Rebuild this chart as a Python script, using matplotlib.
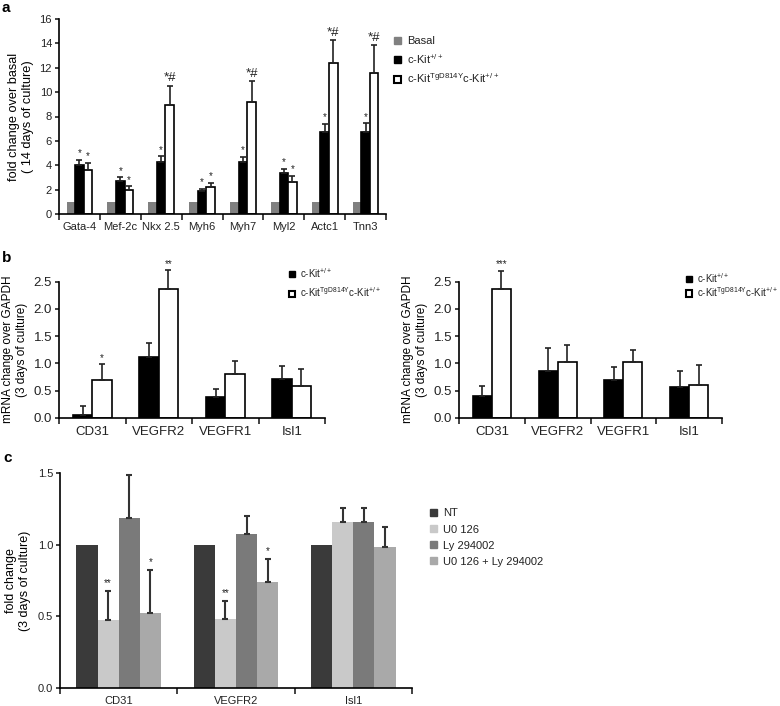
import numpy as np
import matplotlib
matplotlib.use('Agg')
import matplotlib.pyplot as plt
from matplotlib.patches import Patch

plt.rcParams['font.family'] = ['Liberation Sans', 'DejaVu Sans']
plt.rcParams['mathtext.fontset'] = 'custom'
plt.rcParams['mathtext.rm'] = 'Liberation Sans'
plt.rcParams['font.size'] = 8
plt.rcParams['text.color'] = '#222222'
plt.rcParams['xtick.color'] = '#222222'
plt.rcParams['ytick.color'] = '#222222'

# ---- panel a: cardiac genes, 14 days ----
genes_a = ['Gata-4', 'Mef-2c', 'Nkx 2.5', 'Myh6', 'Myh7', 'Myl2', 'Actc1', 'Tnn3']
basal_a = [1, 1, 1, 1, 1, 1, 1, 1]
wt_a = [4.05, 2.7, 4.3, 1.9, 4.25, 3.35, 6.7, 6.75]
wt_a_err = [0.42, 0.3, 0.45, 0.18, 0.45, 0.38, 0.7, 0.7]
tg_a = [3.62, 1.93, 8.92, 2.18, 9.23, 2.65, 12.35, 11.6]
tg_a_err = [0.6, 0.33, 1.6, 0.4, 1.67, 0.48, 1.93, 2.25]
wt_a_sig = ['*', '*', '*', '*', '*', '*', '*', '*']
tg_a_sig = ['*', '*', '*#', '*', '*#', '*', '*#', '*#']

# ---- panel b: endothelial genes, 3 days (two experiments) ----
genes_b = ['CD31', 'VEGFR2', 'VEGFR1', 'Isl1']
wt_b1 = [0.05, 1.12, 0.38, 0.72]
wt_b1_err = [0.17, 0.26, 0.14, 0.23]
tg_b1 = [0.70, 2.37, 0.81, 0.59]
tg_b1_err = [0.28, 0.34, 0.24, 0.30]
tg_b1_sig = ['*', '**', '', '']
wt_b2 = [0.39, 0.85, 0.69, 0.57]
wt_b2_err = [0.20, 0.44, 0.25, 0.29]
tg_b2 = [2.37, 1.03, 1.03, 0.60]
tg_b2_err = [0.33, 0.31, 0.21, 0.36]
tg_b2_sig = ['***', '', '', '']

# ---- panel c: inhibitors ----
genes_c = ['CD31', 'VEGFR2', 'Isl1']
treat_c = ['NT', 'U0 126', 'Ly 294002', 'U0 126 + Ly 294002']
vals_c = [[1.0, 1.0, 1.0],
          [0.477, 0.484, 1.158],
          [1.184, 1.074, 1.158],
          [0.523, 0.74, 0.984]]
err_c = [[0, 0, 0],
         [0.20, 0.125, 0.095],
         [0.30, 0.125, 0.095],
         [0.30, 0.16, 0.14]]
sig_c = [['', '', ''], ['**', '**', ''], ['', '', ''], ['*', '*', '']]
colors_c = ['#3a3a3a', '#c9c9c9', '#7a7a7a', '#a9a9a9']

W, H = 780, 706
fig = plt.figure(figsize=(W / 100, H / 100), dpi=100)


def px_axes(x0, y0, x1, y1):
    return fig.add_axes([x0 / W, 1 - y1 / H, (x1 - x0) / W, (y1 - y0) / H])


def style(ax, n, ymax, step, fs):
    ax.spines['top'].set_visible(False)
    ax.spines['right'].set_visible(False)
    ax.spines['left'].set_linewidth(1.2)
    ax.spines['bottom'].set_linewidth(1.2)
    ax.set_xlim(-0.5, n - 0.5)
    ax.set_ylim(0, ymax)
    ax.set_yticks(np.arange(0, ymax + step / 2, step))
    ax.set_xticks(np.arange(n))
    ax.set_xticks(np.arange(n + 1) - 0.5, minor=True)
    ax.tick_params(axis='x', which='major', length=0, pad=6, labelsize=fs)
    ax.tick_params(axis='x', which='minor', length=4, width=1.2, direction='out')
    ax.tick_params(axis='y', length=3, width=1.2, direction='out', pad=2, labelsize=fs)


def bars(ax, x, vals, errs, color, edge, sig=None):
    ax.bar(x, vals, width=bw, color=color, edgecolor=edge, linewidth=1.2 if edge != 'none' else 0,
           zorder=2)
    if errs is not None:
        ax.errorbar(x, vals, yerr=[np.zeros(len(vals)), errs], fmt='none', ecolor='#222222',
                    elinewidth=1.2, capsize=2.5, capthick=1.2, zorder=3, clip_on=False)
    if sig is not None:
        tops = np.array(vals) + np.array(errs)
        for xi, t, s in zip(x, tops, sig):
            if s:
                ax.annotate(s, (xi, t), xytext=(0, 1), textcoords='offset points',
                            ha='center', va='bottom', fontsize=9.5 if '#' in s else 7,
                            annotation_clip=False)


wt_label = r'c-Kit$^{\mathrm{+/+}}$'
tg_label = r'c-Kit$^{\mathrm{TgD814Y}}$c-Kit$^{\mathrm{+/+}}$'

# panel a
ax = px_axes(59, 19, 386, 214)
x = np.arange(len(genes_a))
bw = 0.21
bars(ax, x - bw, basal_a, None, '#808080', 'none')
bars(ax, x, wt_a, wt_a_err, 'black', 'black', wt_a_sig)
bars(ax, x + bw, tg_a, tg_a_err, 'white', 'black', tg_a_sig)
style(ax, len(genes_a), 16, 2, 8)
ax.set_xticklabels(genes_a)
ax.set_ylabel('fold change over basal\n( 14 days of culture)', labelpad=4, fontsize=9.2)
fig.legend(handles=[Patch(color='#808080', label='Basal'),
                    Patch(facecolor='black', edgecolor='black', label=wt_label),
                    Patch(facecolor='white', edgecolor='black', linewidth=1.5, label=tg_label)],
           loc='upper left', bbox_to_anchor=(390 / W, 1 - 32 / H), frameon=False,
           handlelength=0.6, handleheight=0.6, handletextpad=0.5, labelspacing=0.5,
           fontsize=8, borderaxespad=0)

# panel b
bw = 0.29
for (x0, x1), wt, wte, tg, tge, sig, legy, lsp in [
        ((59, 325), wt_b1, wt_b1_err, tg_b1, tg_b1_err, tg_b1_sig, 262, 0.6),
        ((459, 722), wt_b2, wt_b2_err, tg_b2, tg_b2_err, tg_b2_sig, 267, 0.05)]:
    ax = px_axes(x0, 281.7, x1, 417.7)
    x = np.arange(len(genes_b))
    bars(ax, x - bw / 2, wt, wte, 'black', 'black')
    bars(ax, x + bw / 2, tg, tge, 'white', 'black', sig)
    style(ax, len(genes_b), 2.5, 0.5, 9.5)
    ax.set_yticklabels(['%.1f' % v for v in np.arange(0, 2.51, 0.5)])
    ax.set_xticklabels(genes_b)
    ax.set_ylabel('mRNA change over GAPDH\n(3 days of culture)', labelpad=4, fontsize=8.5)
    fig.legend(handles=[Patch(facecolor='black', edgecolor='black', label=wt_label),
                        Patch(facecolor='white', edgecolor='black', linewidth=1.5, label=tg_label)],
               loc='upper left', bbox_to_anchor=((x1 - 40) / W, 1 - legy / H), frameon=False,
               handlelength=0.6, handleheight=0.6, handletextpad=0.5, labelspacing=lsp,
               fontsize=7, borderaxespad=0)

# panel c
ax = px_axes(60, 473, 412, 688)
x = np.arange(len(genes_c))
bw = 0.18
offs = (np.arange(4) - 1.5) * bw
for i in range(4):
    ax.bar(x + offs[i], vals_c[i], width=bw, color=colors_c[i], zorder=2)
    if i > 0:
        ax.errorbar(x + offs[i], vals_c[i], yerr=[np.zeros(3), err_c[i]], fmt='none',
                    ecolor='#333333', elinewidth=1.5, capsize=2, capthick=1.5, zorder=3)
    for xi, v, e, s in zip(x + offs[i], vals_c[i], err_c[i], sig_c[i]):
        if s:
            ax.annotate(s, (xi, v + e), xytext=(0, 2), textcoords='offset points',
                        ha='center', va='bottom', fontsize=7)
style(ax, len(genes_c), 1.5, 0.5, 8)
ax.set_xticklabels(genes_c)
ax.set_ylabel('fold change\n(3 days of culture)', labelpad=5, fontsize=9)
fig.legend(handles=[Patch(color=c, label=t) for c, t in zip(colors_c, treat_c)],
           loc='upper left', bbox_to_anchor=(426 / W, 1 - 504 / H), frameon=False,
           handlelength=0.6, handleheight=0.6, handletextpad=0.5, labelspacing=0.55,
           fontsize=8, borderaxespad=0)

for lab, (px, py) in zip('abc', [(2, 8), (2, 258), (3, 458)]):
    fig.text(px / W, 1 - py / H, lab, fontsize=11, fontweight='bold', ha='left', va='center',
             color='black')

fig.savefig('out.png', dpi=100)
